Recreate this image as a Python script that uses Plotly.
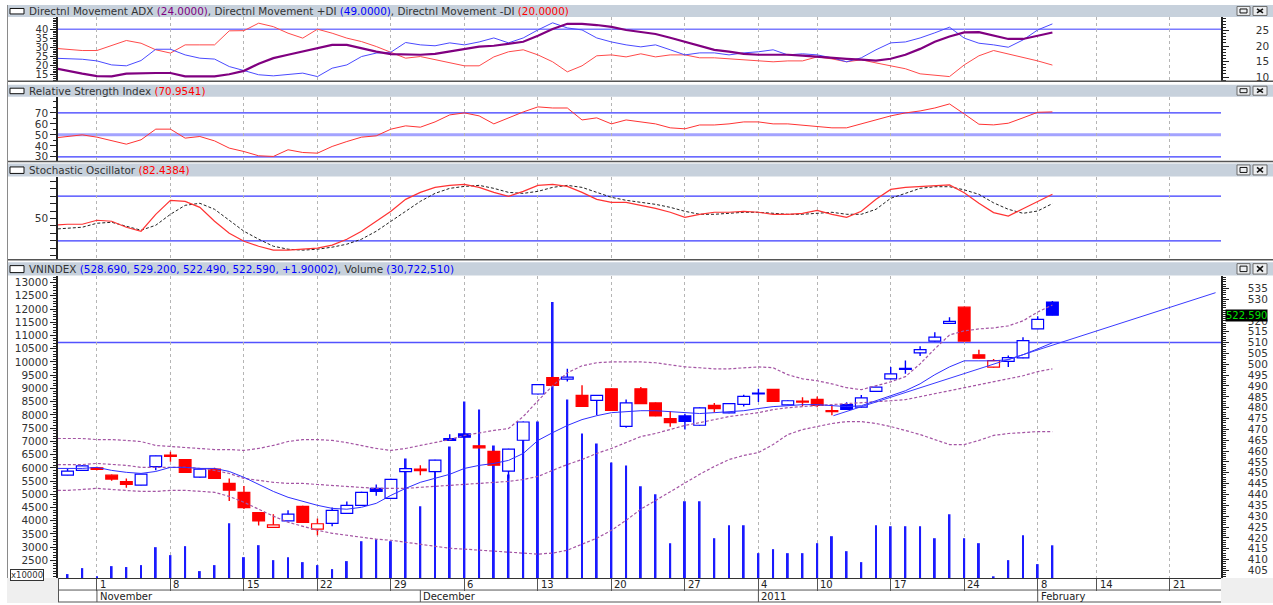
import plotly.graph_objects as go

# trading-day index: 0 = 1 Nov 2010 (Tet break 31 Jan - 7 Feb skipped)
day_idx = list(range(-2, 66))   # candles and volume
ind_idx = list(range(-3, 66))   # indicator lines begin just left of the view

opens = [448.9, 451.1, 452.3, 448.9, 445.9, 444.3, 452.8, 458.1, 456.1, 448.0, 451.7, 445.1, 441.0, 431.6, 424.8, 427.8,
         434.5, 424.0, 426.7, 431.3, 435.0, 442.8, 438.2, 450.5, 451.7, 450.5, 465.8, 467.9, 462.4, 459.9, 450.8, 465.0,
         486.3, 493.9, 493.2, 485.7, 483.4, 488.7, 471.4, 488.7, 482.2, 475.0, 476.2, 471.9, 481.1, 477.6, 481.5, 486.3,
         488.4, 481.3, 483.0, 483.8, 478.6, 481.4, 480.3, 487.5, 493.3, 497.7, 505.3, 510.7, 518.9, 526.3, 504.4, 498.7,
         501.3, 503.0, 516.3, 528.69]
highs = [451.9, 453.6, 452.8, 449.2, 447.4, 449.6, 458.0, 459.7, 456.4, 451.9, 452.3, 447.4, 443.9, 431.9, 430.9, 432.7,
         434.8, 428.9, 434.0, 436.8, 441.3, 444.6, 447.2, 452.3, 453.5, 456.0, 467.7, 468.5, 462.7, 460.2, 461.1, 473.6,
         490.8, 494.2, 497.9, 490.3, 485.9, 488.9, 483.8, 489.5, 482.4, 478.3, 477.2, 480.1, 482.1, 482.1, 486.0, 488.7,
         488.6, 483.4, 484.8, 485.2, 481.1, 482.5, 485.8, 489.7, 498.7, 501.7, 508.3, 514.8, 521.7, 526.5, 506.7, 502.4,
         504.0, 512.5, 522.1, 529.2]
lows = [448.7, 450.9, 451.2, 446.3, 443.1, 444.1, 451.2, 455.1, 449.9, 447.8, 447.2, 437.0, 433.3, 425.7, 424.6, 427.6,
        426.9, 421.2, 425.3, 431.0, 434.8, 439.4, 437.9, 450.3, 448.9, 450.3, 464.7, 466.2, 461.3, 453.3, 447.4, 464.8,
        486.1, 490.1, 492.1, 480.4, 476.5, 478.6, 470.7, 481.7, 476.0, 471.2, 470.0, 471.7, 477.8, 477.4, 480.5, 482.6,
        482.7, 481.1, 480.7, 480.2, 476.5, 479.0, 480.1, 487.3, 493.1, 495.6, 503.8, 510.5, 518.7, 510.5, 502.6, 498.5,
        498.7, 502.8, 516.1, 522.49]
closes = [450.8, 453.2, 451.6, 447.1, 444.6, 449.4, 457.8, 457.6, 450.2, 451.7, 447.4, 442.0, 433.9, 427.8, 426.0, 430.9,
          427.1, 426.5, 432.7, 435.0, 441.0, 441.4, 447.0, 451.9, 451.0, 455.8, 464.9, 466.4, 461.5, 453.5, 460.9, 473.4,
          490.6, 490.3, 494.1, 480.6, 485.7, 478.8, 482.2, 481.9, 476.2, 473.1, 473.7, 479.9, 479.6, 481.9, 485.2, 486.5,
          482.9, 483.2, 482.6, 481.1, 478.2, 479.2, 484.5, 489.5, 495.6, 498.0, 506.8, 512.5, 519.8, 510.7, 502.8, 501.7,
          503.1, 510.9, 520.69, 522.59]
volume = [1984, 2210, 1900, 2285, 2250, 2323, 3001, 2700, 3040, 2097, 2323, 3905, 2624, 3077, 2511, 2624,
          2436, 2323, 2172, 2474, 3227, 3303, 3227, 6355, 4546, 6053, 6807, 8502, 8201, 6845, 5752, 7711,
          7749, 12270, 8578, 7297, 6920, 6204, 6091, 5300, 4998, 3150, 4734, 4734, 3340, 3830, 3830, 2775,
          2926, 2775, 2775, 3152, 3416, 2850, 2436, 3830, 3793, 3793, 3793, 3340, 4245, 3340, 3152, 1900,
          2511, 3454, 2360, 3072]   # x10000

bb_upper = [465.8, 465.8, 465.8, 465.3, 465.3, 464.9, 464.4, 462.6, 462.1, 461.7, 461.2, 460.7, 460.7, 460.3, 461.2,
            462.6, 464.4, 465.3, 465.3, 464.9, 463.9, 462.6, 461.2, 460.3, 461.2, 462.6, 463.9, 465.3, 467.2, 468.5,
            469.5, 470.4, 475.9, 483.2, 490.1, 496.1, 499.3, 500.7, 501.1, 501.1, 501.1, 500.7, 499.8, 498.8, 498.4,
            497.9, 497.9, 498.4, 498.8, 498.4, 495.2, 493.3, 492.4, 491.0, 489.2, 488.3, 490.1, 491.9, 494.3, 500.2,
            507.1, 513.5, 515.4, 516.3, 516.8, 517.7, 520.0, 524.1, 527.3]
bb_mid = [453.8, 453.8, 453.8, 454.3, 453.8, 453.4, 452.5, 452.5, 452.5, 452.5, 452.0, 451.1, 449.7, 447.4, 446.5,
          445.6, 445.1, 445.1, 444.6, 444.2, 443.7, 443.3, 442.8, 442.8, 442.8, 443.3, 443.7, 444.2, 444.6, 445.1,
          445.6, 446.0, 446.9, 448.3, 451.1, 453.8, 456.1, 458.9, 461.2, 463.9, 466.7, 468.1, 469.9, 471.8, 473.1,
          474.5, 475.9, 476.8, 477.7, 479.1, 480.0, 480.5, 480.9, 481.4, 481.9, 482.3, 482.8, 483.2, 483.7, 485.1,
          486.5, 487.8, 489.2, 490.6, 492.0, 493.3, 494.7, 496.6, 497.9]
bb_lower = [441.9, 441.9, 442.3, 442.8, 442.3, 441.9, 441.4, 441.4, 441.9, 441.9, 441.4, 441.0, 439.1, 436.4, 433.2,
            430.0, 427.2, 425.4, 423.5, 422.1, 421.2, 420.3, 419.4, 418.9, 418.0, 417.1, 416.2, 415.2, 414.8, 414.3,
            413.9, 413.4, 413.0, 412.5, 413.0, 414.3, 417.1, 419.8, 423.5, 428.1, 433.2, 437.3, 441.4, 445.6, 449.3,
            452.9, 456.1, 458.0, 459.3, 463.0, 467.6, 469.9, 471.3, 472.7, 473.6, 473.6, 472.7, 471.3, 469.5, 467.6,
            465.3, 463.0, 463.0, 464.9, 467.2, 468.1, 468.5, 469.0, 469.0]
ma_line = [452.0, 452.0, 452.0, 452.5, 451.1, 450.2, 449.7, 450.6, 452.5, 452.5, 452.0, 452.0, 450.6, 447.9, 444.6,
           441.4, 438.7, 436.8, 435.0, 433.6, 433.2, 434.1, 435.9, 439.6, 442.8, 445.6, 447.4, 449.3, 452.0, 453.4,
           454.3, 455.7, 458.9, 464.9, 468.5, 471.8, 474.5, 476.3, 477.7, 478.2, 478.6, 478.6, 478.2, 477.7, 477.3,
           477.7, 478.2, 478.6, 479.6, 480.5, 480.9, 481.4, 481.4, 480.9, 480.5, 480.9, 483.2, 485.5, 487.8, 491.0,
           495.2, 498.8, 501.6, 501.6, 501.6, 502.1, 504.4, 507.1, 509.9]
trend_idx = [50.1, 76.1]
trend_px = [476.3, 533.0]
price_level = 510

adx = [13.0, 12.0, 11.1, 10.3, 10.2, 11.1, 11.3, 11.3, 11.3, 10.2, 10.2, 10.2, 10.9, 12.0, 14.3, 16.1, 17.2, 18.2,
       19.3, 20.4, 20.4, 19.3, 18.2, 17.4, 17.2, 17.2, 17.5, 18.2, 19.1, 19.8, 20.1, 20.7, 21.4, 23.3, 25.5, 27.2,
       27.2, 26.8, 26.2, 25.2, 24.6, 23.9, 22.7, 21.4, 20.1, 18.8, 18.2, 17.5, 17.2, 17.2, 17.2, 16.9, 16.5, 16.2,
       15.9, 15.6, 15.3, 15.9, 17.2, 19.1, 21.4, 23.1, 24.4, 24.5, 23.5, 22.3, 22.3, 23.3, 24.4]
plus_di = [24.1, 24.0, 23.5, 22.6, 20.4, 19.9, 22.8, 29.0, 29.0, 25.9, 24.1, 23.6, 19.5, 17.3, 15.0, 14.4, 15.0, 15.9,
           14.0, 18.6, 20.4, 25.0, 26.9, 27.4, 32.7, 31.4, 30.9, 32.5, 31.4, 33.0, 35.2, 32.5, 35.2, 39.6, 43.5, 40.7,
           39.6, 35.2, 33.0, 31.4, 30.3, 31.4, 28.7, 25.9, 27.0, 27.0, 25.9, 27.0, 27.6, 28.7, 25.9, 26.5, 25.9, 24.3,
           22.1, 24.3, 28.7, 32.5, 33.0, 35.2, 38.0, 41.1, 35.1, 32.3, 31.4, 30.1, 34.1, 39.6, 42.9]
minus_di = [29.6, 28.9, 28.3, 28.3, 31.1, 33.8, 32.3, 28.7, 26.9, 31.4, 31.4, 31.4, 39.1, 39.2, 43.3, 41.4, 37.8, 35.1,
            40.0, 37.8, 35.1, 33.2, 30.5, 27.2, 24.1, 25.0, 23.2, 21.5, 19.9, 19.9, 24.8, 27.6, 28.7, 25.9, 22.1, 16.6,
            19.9, 25.4, 25.9, 24.8, 26.5, 24.8, 25.9, 25.9, 24.3, 24.3, 23.7, 23.2, 22.6, 22.1, 22.6, 22.6, 24.8, 23.7,
            22.1, 23.2, 21.5, 19.9, 18.3, 15.5, 14.7, 14.0, 20.4, 25.4, 28.3, 26.5, 24.6, 22.6, 20.3]
adx_level = 40

rsi = [47.0, 48.2, 50.0, 47.9, 44.5, 41.5, 45.5, 55.2, 55.2, 47.0, 48.5, 44.5, 37.9, 34.8, 30.9, 30.3, 36.4, 33.9,
       33.3, 39.4, 43.9, 47.9, 49.1, 55.2, 58.2, 57.0, 61.8, 68.2, 70.0, 67.3, 60.0, 65.5, 70.9, 75.5, 74.5, 74.5,
       63.6, 65.5, 60.0, 63.6, 61.8, 60.0, 56.4, 55.5, 59.0, 59.0, 60.0, 61.8, 61.8, 60.0, 60.0, 59.0, 58.0, 56.4,
       56.4, 60.0, 63.6, 67.3, 70.0, 71.8, 74.5, 78.2, 69.1, 59.7, 59.1, 60.6, 65.5, 70.6, 70.95]
rsi_levels = [70, 30]
rsi_mid = 50

stoch_k = [40.9, 42.3, 42.3, 47.6, 46.3, 38.3, 32.9, 55.6, 74.3, 72.9, 64.9, 46.3, 30.3, 19.6, 12.9, 7.6, 7.6, 8.9,
           10.3, 14.3, 22.3, 32.9, 46.3, 59.6, 75.6, 84.9, 91.6, 94.3, 95.6, 91.6, 84.9, 79.6, 86.3, 94.3, 95.6, 92.9,
           84.9, 75.6, 71.6, 71.6, 67.6, 63.6, 58.3, 51.6, 55.6, 58.3, 58.3, 59.6, 58.3, 55.6, 55.6, 56.9, 60.9, 55.6,
           51.6, 59.6, 75.6, 88.9, 91.6, 92.9, 94.3, 94.9, 84.5, 70.3, 57.9, 53.3, 63.0, 72.9, 82.4]
stoch_d = [35.6, 36.9, 38.3, 43.6, 44.9, 39.6, 34.3, 40.9, 55.6, 67.6, 70.3, 62.3, 47.6, 32.9, 22.3, 12.9, 8.9, 7.6,
           8.9, 11.6, 15.6, 22.3, 32.9, 46.3, 59.6, 72.9, 83.6, 90.3, 92.9, 94.3, 90.3, 84.9, 83.6, 86.3, 91.6, 94.3,
           91.6, 84.9, 78.3, 74.3, 71.6, 68.9, 64.9, 59.6, 55.6, 55.6, 56.9, 58.3, 58.3, 56.9, 55.6, 55.6, 56.9, 58.3,
           55.6, 55.6, 62.3, 77.0, 83.6, 90.3, 92.5, 92.5, 88.3, 82.3, 70.9, 62.3, 56.9, 60.0, 69.9]
stoch_levels = [80, 20]

week_ticks = [0, 5, 10, 15, 20, 25, 30, 35, 40, 45, 49, 54, 59, 64, 68, 73]
week_labels = ["1", "8", "15", "22", "29", "6", "13", "20", "27", "4", "10", "17", "24", "8", "14", "21"]
month_ticks = [0, 22, 45, 64]
month_labels = ["November", "December", "2011", "February"]

for arr in (opens, highs, lows, closes, volume):
    assert len(arr) == len(day_idx)
for arr in (bb_upper, bb_mid, bb_lower, ma_line, adx, plus_di, minus_di, rsi, stoch_k, stoch_d):
    assert len(arr) == len(ind_idx)

W, H = 1273, 605
X0, X1 = 58, 1221
XR = [-2.65, 76.47]
BLUE, RED = "#0000ff", "#ff0000"
TICKFONT = dict(family="DejaVu Sans", size=10.5, color="#333333")


def fy(p):
    return 1 - p / H


def fx(p):
    return p / W


def xaxis(anchor, bottom=False):
    d = dict(domain=[fx(X0), fx(X1)], range=XR, anchor=anchor, tickmode="array", tickvals=week_ticks,
             showticklabels=False, showgrid=True, gridcolor="#b5b5b5", griddash="dot", gridwidth=1,
             zeroline=False, showline=False, ticks="", fixedrange=True)
    if bottom:
        d.update(ticks="outside", ticklen=12, tickcolor="#555555", tickwidth=1,
                 showline=True, linecolor="#333333", linewidth=1)
    return d


def yaxis(top, bottom, rng, vals, anchor, side="left", text=None, minor=None, overlay=None, standoff=0,
          size=10.5):
    d = dict(domain=[fy(bottom), fy(top)], range=rng, side=side, anchor=anchor, tickmode="array", tickvals=vals,
             ticktext=text if text is not None else [str(v) for v in vals],
             ticks="outside", ticklen=6, tickcolor="#222222", tickwidth=1, showline=True, linecolor="#222222",
             linewidth=1.5, showgrid=False, zeroline=False, tickfont=dict(TICKFONT, size=size), fixedrange=True,
             ticklabelstandoff=standoff)
    if minor:
        d["minor"] = dict(dtick=minor, tick0=0, ticks="outside", ticklen=3, tickcolor="#222222", tickwidth=1)
    if overlay:
        d["overlaying"] = overlay
    return d


fig = go.Figure()

# --- ADX panel
fig.add_trace(go.Scatter(x=ind_idx, y=minus_di, xaxis="x", yaxis="y", mode="lines",
                         line=dict(color="#ff4a4a", width=1)))
fig.add_trace(go.Scatter(x=ind_idx, y=plus_di, xaxis="x", yaxis="y", mode="lines",
                         line=dict(color="#4a4aff", width=1)))
fig.add_trace(go.Scatter(x=ind_idx, y=adx, xaxis="x", yaxis="y2", mode="lines",
                         line=dict(color="#800080", width=2.2)))

# --- RSI panel
fig.add_trace(go.Scatter(x=ind_idx, y=rsi, xaxis="x2", yaxis="y3", mode="lines",
                         line=dict(color="#ff3333", width=1)))

# --- Stochastic panel
fig.add_trace(go.Scatter(x=ind_idx, y=stoch_d, xaxis="x3", yaxis="y5", mode="lines",
                         line=dict(color="#222222", width=1, dash="3px,2px")))
fig.add_trace(go.Scatter(x=ind_idx, y=stoch_k, xaxis="x3", yaxis="y5", mode="lines",
                         line=dict(color="#ff3333", width=1.2)))

# --- price panel: volume (left scale) then candles (right scale)
fig.add_trace(go.Bar(x=day_idx, y=volume, width=0.13, xaxis="x4", yaxis="y7",
                     marker=dict(color="#1a1aff", line_width=0)))

fills, edges, bases, heights = [], [], [], []
wick_x = {BLUE: [], RED: []}
wick_y = {BLUE: [], RED: []}
prev = None
for i, op, hi, lo, cl in zip(day_idx, opens, highs, lows, closes):
    col = BLUE if prev is None or cl >= prev else RED
    top, bot = max(op, cl), min(op, cl)
    bases.append(bot)
    heights.append(max(top - bot, 0.45))
    fills.append("white" if cl >= op else col)
    edges.append(col)
    wick_x[col] += [i, i, None, i, i, None]
    wick_y[col] += [top, hi, None, bot, lo, None]
    prev = cl

fig.add_trace(go.Bar(x=day_idx, y=heights, base=bases, width=0.8, xaxis="x4", yaxis="y8",
                     marker=dict(color=fills, line=dict(color=edges, width=1.2))))
for col in (BLUE, RED):
    fig.add_trace(go.Scatter(x=wick_x[col], y=wick_y[col], xaxis="x4", yaxis="y8", mode="lines",
                             line=dict(color=col, width=1.4)))
for band in (bb_upper, bb_mid, bb_lower):
    fig.add_trace(go.Scatter(x=ind_idx, y=band, xaxis="x4", yaxis="y8", mode="lines",
                             line=dict(color="#a455a4", width=1.2, dash="3px,2px")))
fig.add_trace(go.Scatter(x=ind_idx, y=ma_line, xaxis="x4", yaxis="y8", mode="lines",
                         line=dict(color="#2e2eff", width=1)))
fig.add_trace(go.Scatter(x=trend_idx, y=trend_px, xaxis="x4", yaxis="y8", mode="lines",
                         line=dict(color="#3a3aff", width=1)))

# ---------------- decorations
shapes = []


def rect(x0, y0, x1, y1, fill, line=None, lw=0):
    shapes.append(dict(type="rect", xref="paper", yref="paper", x0=fx(x0), x1=fx(x1), y0=fy(y1), y1=fy(y0),
                       fillcolor=fill, line=dict(color=line or fill, width=lw)))


def seg(x0, y0, x1, y1, color, w=1):
    shapes.append(dict(type="line", xref="paper", yref="paper", x0=fx(x0), x1=fx(x1), y0=fy(y0), y1=fy(y1),
                       line=dict(color=color, width=w)))


def level(yref, xref, val, color, w):
    shapes.append(dict(type="line", xref=xref + " domain", yref=yref, x0=0, x1=1, y0=val, y1=val,
                       line=dict(color=color, width=w), layer="below"))


HEADERS = [(5, 17), (85, 97), (164, 177), (263, 276.5)]
for t, b in HEADERS:
    rect(7, t, W, b, "#c7d1dc")
    rect(10, t + 3.5, 24, b - 3, "white", "#111111", 1)
    rect(1237, t + 1.5, 1250, b - 1.5, "#eceef0", "#6b6b6b", 1)
    rect(1240, t + 4, 1247, b - 4, "rgba(0,0,0,0)", "#111111", 1)
    rect(1253, t + 1.5, 1267, b - 1.5, "#eceef0", "#6b6b6b", 1)
    seg(1257, t + 4, 1263, b - 4, "#111111", 1.5)
    seg(1257, b - 4, 1263, t + 4, "#111111", 1.5)

for yy in (81.5, 162, 260.5):
    seg(7, yy, W, yy, "#555555", 1.5)
seg(7.5, 5, 7.5, H, "#8a8a8a", 1)

rect(7, 580, X0, H, "#efefef")
rect(X1, 580, W, H, "#efefef")
seg(X0, 592, X1, 592, "#555555", 1)
seg(X0, 604, X1, 604, "#555555", 1)
seg(X0 + 0.5, 580, X0 + 0.5, 604, "#555555", 1)
for m in month_ticks:
    shapes.append(dict(type="line", xref="x4", yref="paper", x0=m, x1=m, y0=fy(592), y1=fy(604),
                       line=dict(color="#555555", width=1)))

level("y", "x", adx_level, "#7b7bff", 1.5)
for v in rsi_levels:
    level("y3", "x2", v, "#3838ff", 1.2)
level("y3", "x2", rsi_mid, "#a3a3ff", 3)
for v in stoch_levels:
    level("y5", "x3", v, "#3838ff", 1.2)
level("y8", "x4", price_level, "#5252ff", 1.5)

HFONT = dict(family="DejaVu Sans", size=10.4, color="#333333")
annotations = []


def span(txt, col):
    return f"<span style='color:{col}'>{txt}</span>"


header_texts = [
    "Directnl Movement ADX " + span("(24.0000)", "#800080") + ", Directnl Movement +DI "
    + span("(49.0000)", "#0000ff") + ", Directnl Movement -DI " + span("(20.0000)", "#ff0000"),
    "Relative Strength Index " + span("(70.9541)", "#ff0000"),
    "Stochastic Oscillator " + span("(82.4384)", "#ff0000"),
    "VNINDEX " + span("(528.690, 529.200, 522.490, 522.590, +1.90002)", "#0000ff") + ", Volume "
    + span("(30,722,510)", "#0000ff"),
]
for (t, b), txt in zip(HEADERS, header_texts):
    annotations.append(dict(xref="paper", yref="paper", x=fx(27), y=fy((t + b) / 2), xanchor="left",
                            yanchor="middle", text=txt, showarrow=False, font=HFONT))

DFONT = dict(family="DejaVu Sans", size=10, color="#222222")
for v, lab in zip(week_ticks, week_labels):
    annotations.append(dict(xref="x4", yref="paper", x=v, y=fy(586.5), xanchor="left", yanchor="middle",
                            xshift=1, text=lab, showarrow=False, font=DFONT))
for v, lab in zip(month_ticks, month_labels):
    annotations.append(dict(xref="x4", yref="paper", x=v, y=fy(598.5), xanchor="left", yanchor="middle",
                            xshift=1, text=lab, showarrow=False, font=DFONT))

annotations.append(dict(xref="paper", yref="y8", x=fx(1225), y=closes[-1], xanchor="left", yanchor="middle",
                        text=f"{closes[-1]:.3f}", showarrow=False, bgcolor="#000000", borderpad=0,
                        font=dict(family="DejaVu Sans", size=10, color="#00e000")))
annotations.append(dict(xref="paper", yref="paper", x=fx(10), y=fy(576.5), xanchor="left", yanchor="middle",
                        text="x10000", showarrow=False, bgcolor="white", bordercolor="#333333", borderwidth=1,
                        borderpad=0, font=dict(family="DejaVu Sans", size=8.5, color="#333333")))

price_ticks = list(range(405, 536, 5))
stoch_ticks = list(range(0, 101, 10))

fig.update_layout(
    width=W, height=H, autosize=False,
    margin=dict(l=0, r=0, t=0, b=0),
    paper_bgcolor="white", plot_bgcolor="white",
    showlegend=False, hovermode=False, barmode="overlay",
    xaxis=xaxis("y"), xaxis2=xaxis("y3"), xaxis3=xaxis("y5"), xaxis4=xaxis("y7", bottom=True),
    yaxis=yaxis(17.5, 81, [11.72, 46.45], [15, 20, 25, 30, 35, 40], "x", minor=1, size=10),
    yaxis2=yaxis(17.5, 81, [8.81, 29.25], [10, 15, 20, 25], "x", side="right", minor=1, overlay="y",
                 standoff=25),
    yaxis3=yaxis(97.5, 161.5, [26.18, 84.36], [30, 40, 50, 60, 70], "x2", minor=5),
    yaxis4=yaxis(97.5, 161.5, [26.18, 84.36], [30, 40, 50, 60, 70], "x2", side="right", minor=5,
                 overlay="y3", standoff=25),
    yaxis5=yaxis(177.5, 260, [-4.4, 105.6], stoch_ticks, "x3",
                 text=["50" if v == 50 else "" for v in stoch_ticks]),
    yaxis6=yaxis(177.5, 260, [-4.4, 105.6], stoch_ticks, "x3", side="right",
                 text=["50" if v == 50 else "" for v in stoch_ticks], overlay="y5", standoff=25),
    yaxis7=yaxis(276.5, 580, [1833, 13264], list(range(2500, 13001, 500)), "x4", minor=100),
    yaxis8=yaxis(276.5, 580, [401.46, 540.88], price_ticks, "x4", side="right", minor=1,
                 text=["" if v == 525 else str(v) for v in price_ticks], overlay="y7", standoff=17),
    shapes=shapes, annotations=annotations,
)

fig.write_html("out.html", config={"displayModeBar": False},
               post_script="document.body.style.margin='0';document.body.style.overflow='hidden';")
